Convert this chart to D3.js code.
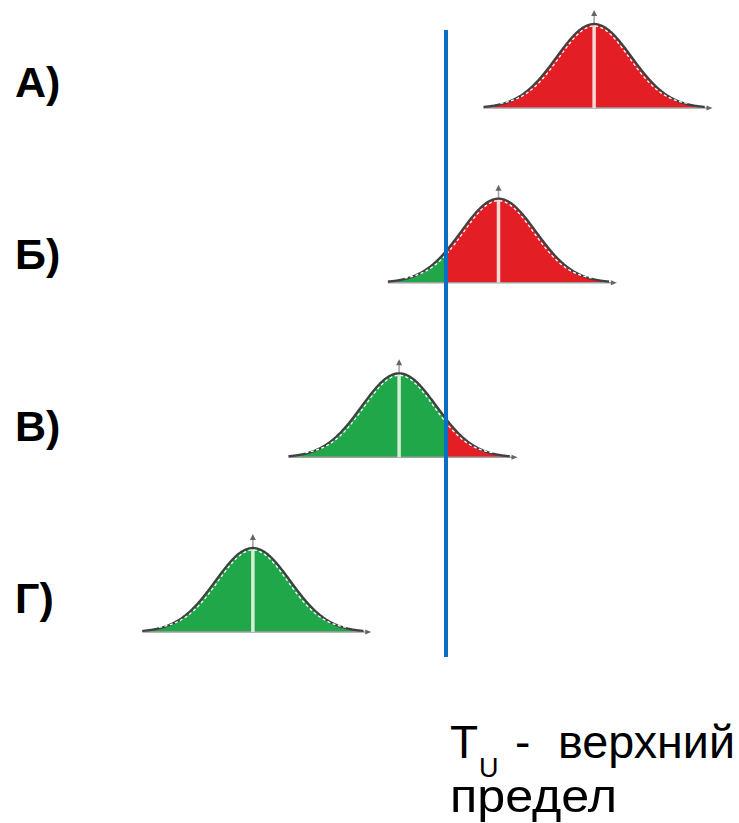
<!DOCTYPE html>
<html>
<head>
<meta charset="utf-8">
<script src="https://cdn.jsdelivr.net/npm/d3@7"></script>
<style>
  html, body { margin: 0; padding: 0; background: #ffffff; }
  svg { display: block; }
  text { font-family: "Liberation Sans", Arial, sans-serif; }
</style>
</head>
<body>
<svg id="chart" width="739" height="823"></svg>
<script>
// ---- data ----
const rows = ["А)", "Б)", "В)", "Г)"];
const means = [3.95, 1.4, -1.25, -5.15];   // process mean, in sigma units relative to T_U
const sigmas = [1, 1, 1, 1];
const upperLimit = 0;                       // T_U
const limitLabel = ["T", "U", "-", "верхний", "предел"];

// ---- scales ----
const svg = d3.select("#chart");
const x = d3.scaleLinear().domain([-10, 8]).range([446 - 375, 446 + 300]);
const yRow = d3.scalePoint().domain(rows).range([108, 632]);
const yLabel = d3.scalePoint().domain(rows).range([97, 613]);
const h = d3.scaleLinear().domain([0, 1 / Math.sqrt(2 * Math.PI)]).range([0, 84]);

const pdf = (v, m, s) => Math.exp(-0.5 * ((v - m) / s) ** 2) / (s * Math.sqrt(2 * Math.PI));

const RED = "#e41e25", GREEN = "#20a74a";

rows.forEach((r, i) => {
  const m = means[i], s = sigmas[i];
  const base = yRow(r);
  const g = svg.append("g");
  const lo = m - 2.85 * s, hi = m + 2.85 * s;
  const pts = d3.range(lo, hi + 1e-9, (hi - lo) / 300);

  const area = d3.area()
    .x(v => x(v)).y0(base).y1(v => base - h(pdf(v, m, s)))
    .curve(d3.curveBasis);

  const greenPts = pts.filter(v => v <= upperLimit);
  if (greenPts.length) {
    if (greenPts[greenPts.length - 1] < upperLimit && upperLimit < hi) greenPts.push(upperLimit);
    g.append("path").attr("d", area(greenPts)).attr("fill", GREEN);
  }
  const redPts = pts.filter(v => v >= upperLimit);
  if (redPts.length) {
    if (redPts[0] > upperLimit && upperLimit > lo) redPts.unshift(upperLimit);
    g.append("path").attr("d", area(redPts)).attr("fill", RED);
  }

  // horizontal axis with arrow
  const ax0 = x(m - 2.95 * s), ax1 = x(m + 3.05 * s);
  g.append("line").attr("x1", ax0).attr("x2", ax1).attr("y1", base).attr("y2", base)
    .attr("stroke", "#a0a0a0").attr("stroke-width", 1.5);
  g.append("path")
    .attr("d", `M${ax1 + 4},${base} L${ax1 - 2},${base - 2.5} L${ax1 - 2},${base + 2.5} Z`)
    .attr("fill", "#666");

  // light centre line
  const peakY = base - h(pdf(m, m, s));
  g.append("line").attr("x1", x(m)).attr("x2", x(m)).attr("y1", base).attr("y2", peakY)
    .attr("stroke", m > upperLimit ? "#f6d8d4" : "#d6eed6").attr("stroke-width", 3.5);
  // vertical arrow above peak
  g.append("line").attr("x1", x(m)).attr("x2", x(m)).attr("y1", peakY).attr("y2", peakY - 9)
    .attr("stroke", "#a0a0a0").attr("stroke-width", 1.5);
  g.append("path")
    .attr("d", `M${x(m)},${peakY - 14} L${x(m) - 3},${peakY - 8} L${x(m) + 3},${peakY - 8} Z`)
    .attr("fill", "#666");

  // dark outline
  const line = d3.line().x(v => x(v)).y(v => base - h(pdf(v, m, s))).curve(d3.curveBasis);
  const outPts = d3.range(m - 2.95 * s, m + 2.95 * s + 1e-9, 5.9 * s / 300);
  g.append("path").attr("d", line(outPts)).attr("fill", "none")
    .attr("stroke", "#404040").attr("stroke-width", 2.3);

  // white dashed inner line
  const inner = d3.line().x(v => x(v))
    .y(v => base - 2.5 - h(pdf(v, m, s * 0.93)) * 0.88)
    .curve(d3.curveBasis);
  const inPts = d3.range(m - 2.5 * s, m + 2.5 * s + 1e-9, 5.0 * s / 300);
  g.append("path").attr("d", inner(inPts)).attr("fill", "none")
    .attr("stroke", "#ffffff").attr("stroke-width", 1.3).attr("stroke-dasharray", "3,2.5");

  // row label
  svg.append("text").attr("x", 15).attr("y", yLabel(r))
    .attr("font-size", 43).attr("font-weight", "bold").attr("fill", "#000")
    .text(r);
});

// upper limit line
svg.append("line").attr("x1", x(upperLimit)).attr("x2", x(upperLimit))
  .attr("y1", 30).attr("y2", 657)
  .attr("stroke", "#0a6fc4").attr("stroke-width", 4);

// limit label (one text element, two lines)
const t = svg.append("text").attr("x", 450).attr("y", 758)
  .attr("font-size", 46).attr("fill", "#000");
t.append("tspan").text(limitLabel[0]);
t.append("tspan").attr("x", 479).attr("font-size", 27).attr("dy", 19).text(limitLabel[1]);
t.append("tspan").attr("x", 515).attr("dy", -19).text(limitLabel[2]);
t.append("tspan").attr("x", 558).attr("textLength", 177).attr("lengthAdjust", "spacingAndGlyphs")
  .text(limitLabel[3]);
t.append("tspan").attr("x", 450).attr("y", 812).attr("textLength", 167)
  .attr("lengthAdjust", "spacingAndGlyphs").text(limitLabel[4]);
</script>
</body>
</html>
